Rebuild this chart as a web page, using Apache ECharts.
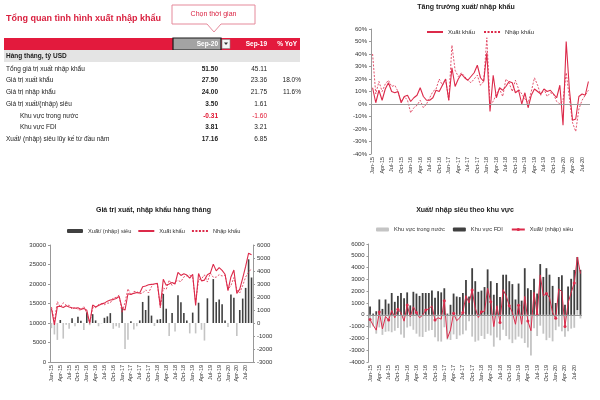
<!DOCTYPE html>
<html><head><meta charset="utf-8">
<script src="https://cdn.jsdelivr.net/npm/echarts@6/dist/echarts.min.js"></script>
<style>html,body{margin:0;padding:0;background:#fff}#c{width:600px;height:400px}</style>
</head><body><div id="c"></div>
<script>
// ---------------- DATA ----------------
const months = ['Jan-15','Feb-15','Mar-15','Apr-15','May-15','Jun-15','Jul-15','Aug-15','Sep-15','Oct-15','Nov-15','Dec-15',
'Jan-16','Feb-16','Mar-16','Apr-16','May-16','Jun-16','Jul-16','Aug-16','Sep-16','Oct-16','Nov-16','Dec-16',
'Jan-17','Feb-17','Mar-17','Apr-17','May-17','Jun-17','Jul-17','Aug-17','Sep-17','Oct-17','Nov-17','Dec-17',
'Jan-18','Feb-18','Mar-18','Apr-18','May-18','Jun-18','Jul-18','Aug-18','Sep-18','Oct-18','Nov-18','Dec-18',
'Jan-19','Feb-19','Mar-19','Apr-19','May-19','Jun-19','Jul-19','Aug-19','Sep-19','Oct-19','Nov-19','Dec-19',
'Jan-20','Feb-20','Mar-20','Apr-20','May-20','Jun-20','Jul-20','Aug-20','Sep-20'];

// YoY growth, %
const exportGrowth = [13,1,11,3,12,17,10,9,10,1,6,7,
  2,5,7,13,6,3,3,5,11,10,15,20,
  3,29,14,20,24,21,19,22,25,31,21,18,
  41,-6,23,5,13,11,14,18,17,9,11,0,
  9,-3,7,12,10,8,12,10,11,8,5,15,
  -17,50,12,-13,-12,6,8,7,18];
const importGrowth = [40,8,18,10,16,19,14,15,10,2,6,3,
  -7,-3,-1,3,-3,0,5,10,12,20,15,20,
  3,47,27,22,25,22,19,17,20,23,15,18,
  53,0,2,8,12,6,20,17,10,19,12,8,
  4,1,10,21,15,7,12,6,9,8,2,0,
  3,25,5,-15,-22,-4,3,7,11];

// Monthly values, million USD
const exportValue = [13700,9500,14200,14300,14000,14400,14100,13900,13800,13900,13500,13700,
  13300,9900,14600,14100,14500,14900,15100,15600,15900,16000,16300,16800,
  13800,13300,17500,17300,17600,17800,17700,19300,19500,19800,19900,20000,
  20200,14200,21200,19700,20000,20400,20000,23000,22200,22600,22300,21500,
  22500,14500,22700,20800,21000,22400,22800,25100,23360,24200,23500,22500,
  18300,21800,23600,17600,18700,21500,24500,27900,27500];
const importValue = [14100,10380,15500,14070,15200,14540,14550,13530,14050,13420,13330,14240,
  12480,10070,13920,13900,14750,14930,14700,15090,15140,16450,16550,17170,
  12610,15300,18780,17160,18100,18050,17500,17680,18500,17700,19330,20230,
  19940,13900,18960,18600,21000,19630,20650,20870,20600,21830,22100,22300,
  21700,15300,21140,21320,22350,20500,22800,21720,21750,22400,22050,22300,
  18600,19600,21650,18600,17700,19620,21800,23000,24000];
const netBalance = [-400,-880,-1300,230,-1200,-140,-450,370,-250,480,170,-540,
  820,-170,680,200,-250,-30,400,510,760,-450,-250,-370,
  1190,-2000,-1280,140,-500,-250,200,1620,1000,2100,570,-230,
  260,300,2240,1100,-1000,770,-650,2130,1600,770,200,-800,
  800,-800,1560,-520,-1350,1900,0,3380,1610,1800,1450,200,
  -300,2200,1950,-1000,1000,1880,2700,4900,3500];
const fdiBalance = [700,100,300,1300,500,1300,950,1850,1100,1600,1850,1400,
  1900,800,1950,1800,1600,1850,1850,1850,2050,1450,2000,1900,
  2250,100,850,1800,1550,1500,1850,2950,1550,3950,2850,1950,
  2050,2350,3850,2850,1700,2700,1500,3400,3400,2850,2600,1300,
  2650,1200,3950,2250,2100,3050,1800,4300,3210,3950,3400,2450,
  1000,3200,3350,850,2400,3050,3800,4500,3810];
const domesticBalance = [-1100,-980,-1600,-1070,-1700,-1440,-1400,-1480,-1350,-1120,-1680,-1940,
  -1080,-970,-1270,-1600,-1850,-1880,-1450,-1340,-1290,-1900,-2250,-2270,
  -1060,-2100,-2130,-1660,-2050,-1750,-1650,-1330,-550,-1850,-2280,-2180,
  -1790,-2050,-1610,-1750,-2700,-1930,-2150,-1270,-1800,-2080,-2400,-2100,
  -1850,-2000,-2390,-2770,-3450,-1150,-1800,-920,-1600,-2150,-1950,-2250,
  -1300,-1000,-1400,-1850,-1400,-1170,-1100,400,-310];

// Summary table (billion USD)
const headerCols = ['Sep-20','Sep-19','% YoY'];
const rowLabels = ['Tổng giá trị xuất nhập khẩu','Giá trị xuất khẩu','Giá trị nhập khẩu','Giá trị xuất/(nhập) siêu',
  'Khu vực trong nước','Khu vực FDI','Xuất/ (nhập) siêu lũy kế từ đầu năm'];
const rowIndent = [0,0,0,0,1,1,0];
const curVals = [51.50,27.50,24.00,3.50,-0.31,3.81,17.16];
const prevVals = [45.11,23.36,21.75,1.61,-1.60,3.21,6.85];
const yoyVals = [null,18.0,11.6,null,null,null,null];

// ---------------- STYLE ----------------
const F = "'Liberation Sans', Arial, sans-serif";
const RED = '#dc2a4a';
const TRED = '#d91f3e';
const HRED = '#e31a3d';
const DARK = '#404040';
const LIGHT = '#c4c4c4';

const legendNames = {XKg:'Xuất khẩu', NKg:'Nhập khẩu', NETb:'Xuất/ (nhập) siêu', XKv:'Xuất khẩu', NKv:'Nhập khẩu',
  DOM:'Khu vực trong nước', FDI:'Khu vực FDI', NETl:'Xuất/ (nhập) siêu'};
const noSym = {color:'rgba(0,0,0,0)', borderWidth:0, opacity:0};

// ---------------- TABLE (graphic) ----------------
const g = [];
function txt(x, y, text, font, fill, align) {
  g.push({type:'text', silent:true, style:{x:x, y:y, text:text, font:font, fill:fill,
    align:align||'left', textAlign:align||'left', verticalAlign:'middle', textVerticalAlign:'middle'}});
}
txt(6, 19, 'Tổng quan tình hình xuất nhập khẩu', 'bold 9px ' + F, TRED);
g.push({type:'polygon', silent:true, shape:{points:[[172,5],[255,5],[255,24],[221,24],[214,32],[207,24],[172,24]]},
  style:{fill:'#fff', stroke:'#e58a9b', lineWidth:1}});
txt(213.5, 14.5, 'Chọn thời gian', '7px ' + F, TRED, 'center');
g.push({type:'rect', silent:true, shape:{x:4, y:38, width:296, height:12}, style:{fill:HRED}});
g.push({type:'rect', silent:true, shape:{x:173, y:38, width:48, height:12}, style:{fill:'#a3a3a3', stroke:'#1a1a1a', lineWidth:1.2}});
txt(218, 44, headerCols[0], 'bold 6.5px ' + F, '#fff', 'right');
g.push({type:'rect', silent:true, shape:{x:222, y:39.5, width:8, height:9}, style:{fill:'#f4f4f4', stroke:'#888', lineWidth:0.6}});
g.push({type:'polygon', silent:true, shape:{points:[[224,42.5],[228,42.5],[226,45]]}, style:{fill:'#333'}});
txt(267, 44, headerCols[1], 'bold 6.5px ' + F, '#fff', 'right');
txt(297, 44, headerCols[2], 'bold 6.5px ' + F, '#fff', 'right');
g.push({type:'rect', silent:true, shape:{x:4, y:50, width:296, height:12}, style:{fill:'#e4e4e4'}});
txt(6, 56, 'Hàng tháng, tỷ USD', 'bold 6.5px ' + F, '#222');
const rowY = [69, 80.5, 92, 104, 116, 127.5, 139];
rowLabels.forEach(function (lab, i) {
  const y = rowY[i];
  txt(rowIndent[i] ? 20 : 6, y, lab, '6.5px ' + F, '#222');
  txt(218, y, curVals[i].toFixed(2), 'bold 6.5px ' + F, curVals[i] < 0 ? '#e0102c' : '#222', 'right');
  txt(267, y, prevVals[i].toFixed(2), '6.5px ' + F, prevVals[i] < 0 ? '#e0102c' : '#222', 'right');
  if (yoyVals[i] !== null) txt(301, y, yoyVals[i].toFixed(1) + '%', '6.5px ' + F, '#222', 'right');
});

// ---------------- CHART ----------------
const axisLab = {fontSize:6, color:'#333', fontFamily:F};
function catAxis(gi, showLine) {
  return {type:'category', gridIndex:gi, data:months, boundaryGap:true,
    axisLine:{show:showLine, onZero:false, lineStyle:{color:'#999', width:1}},
    axisTick:{show:false},
    axisLabel:{interval:2, rotate:90, fontSize:5.5, color:'#333', fontFamily:F, margin:3},
    splitLine:{show:false}};
}
function valAxis(gi, min, max, step, pos, suffix) {
  return {type:'value', gridIndex:gi, min:min, max:max, interval:step, position:pos,
    axisLine:{show:true, lineStyle:{color:'#999', width:1}},
    axisTick:{show:true, length:2, lineStyle:{color:'#999'}},
    axisLabel:Object.assign({margin:4, formatter:function(v){return String(v) + (suffix || '');}}, axisLab),
    splitLine:{show:false}};
}
const zeroLine = {silent:true, symbol:'none', label:{show:false}, animation:false,
  lineStyle:{color:'#9a9a9a', type:'solid', width:1}, data:[{yAxis:0}]};

const option = {
  animation:false,
  textStyle:{fontFamily:F},
  title:[
    {text:'Tăng trưởng xuất/ nhập khẩu', left:466, top:3.5, textAlign:'center', padding:0,
      textStyle:{fontSize:7, fontWeight:'bold', color:'#222', fontFamily:F}},
    {text:'Giá trị xuất, nhập khẩu hàng tháng', left:153.5, top:207, textAlign:'center', padding:0,
      textStyle:{fontSize:7, fontWeight:'bold', color:'#222', fontFamily:F}},
    {text:'Xuất/ nhập siêu theo khu vực', left:465, top:207, textAlign:'center', padding:0,
      textStyle:{fontSize:7, fontWeight:'bold', color:'#222', fontFamily:F}}
  ],
  legend:[
    {data:[{name:'XKg', itemStyle:noSym},{name:'NKg', itemStyle:noSym}], left:426, top:29, padding:0,
      itemWidth:16, itemHeight:6, itemGap:8,
      formatter:function(n){return legendNames[n];}, textStyle:{fontSize:6, color:'#333', fontFamily:F}},
    {data:['NETb',{name:'XKv', itemStyle:noSym},{name:'NKv', itemStyle:noSym}], left:67, top:228, padding:0,
      itemWidth:16, itemHeight:4, itemGap:6,
      formatter:function(n){return legendNames[n];}, textStyle:{fontSize:5.7, color:'#333', fontFamily:F}},
    {data:['DOM','FDI','NETl'], left:376, top:226.5, padding:0, itemWidth:13, itemHeight:4, itemGap:8,
      formatter:function(n){return legendNames[n];}, textStyle:{fontSize:5.7, color:'#333', fontFamily:F}}
  ],
  grid:[
    {left:371, top:29, width:219, height:125, outerBoundsMode:'none'},
    {left:50, top:245, width:203, height:117, outerBoundsMode:'none'},
    {left:368.5, top:244, width:213.5, height:118, outerBoundsMode:'none'}
  ],
  xAxis:[catAxis(0, false), catAxis(1, true), catAxis(2, false)],
  yAxis:[
    valAxis(0, -40, 60, 10, 'left', '%'),
    valAxis(1, 0, 30000, 5000, 'left'),
    valAxis(1, -3000, 6000, 1000, 'right'),
    valAxis(2, -4000, 6000, 1000, 'left')
  ],
  graphic:{elements:g},
  series:[
    {name:'XKg', type:'line', xAxisIndex:0, yAxisIndex:0, data:exportGrowth, symbol:'none',
      lineStyle:{color:RED, width:1.1}, itemStyle:{color:RED}, markLine:zeroLine, z:3},
    {name:'NKg', type:'line', xAxisIndex:0, yAxisIndex:0, data:importGrowth, symbol:'none',
      lineStyle:{color:RED, width:0.8, type:[2,1.5]}, itemStyle:{color:RED}, z:3},
    {name:'NETb', type:'bar', xAxisIndex:1, yAxisIndex:2, barWidth:1.6,
      data:netBalance.map(function(v){return v < 0 ? {value:v, itemStyle:{color:LIGHT}} : v;}),
      itemStyle:{color:DARK}},
    {name:'XKv', type:'line', xAxisIndex:1, yAxisIndex:1, data:exportValue, symbol:'none',
      lineStyle:{color:RED, width:1.1}, itemStyle:{color:RED}, z:3},
    {name:'NKv', type:'line', xAxisIndex:1, yAxisIndex:1, data:importValue, symbol:'none',
      lineStyle:{color:RED, width:0.8, type:[2,1.5]}, itemStyle:{color:RED}, z:3},
    {name:'DOM', type:'bar', xAxisIndex:2, yAxisIndex:3, stack:'k', barWidth:1.8, data:domesticBalance,
      itemStyle:{color:LIGHT}, markLine:zeroLine},
    {name:'FDI', type:'bar', xAxisIndex:2, yAxisIndex:3, stack:'k', barWidth:1.8, data:fdiBalance,
      itemStyle:{color:DARK}},
    {name:'NETl', type:'line', xAxisIndex:2, yAxisIndex:3, data:netBalance, symbol:'circle', symbolSize:3,
      showSymbol:true, lineStyle:{color:RED, width:1}, itemStyle:{color:RED}, z:4}
  ]
};
const chart = echarts.init(document.getElementById('c'), null, {renderer:'canvas'});
chart.setOption(option);
</script>
</body></html>
